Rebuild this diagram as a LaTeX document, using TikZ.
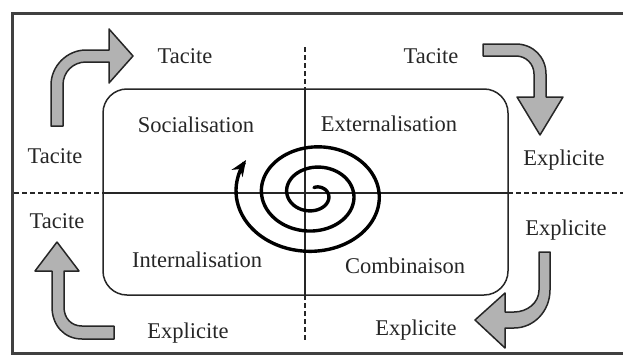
\documentclass[tikz,border=0pt]{standalone}
\usepackage{fontspec}
\setmainfont{Liberation Serif}
\usetikzlibrary{arrows.meta}

\begin{document}
\begin{tikzpicture}[
      x=1pt, y=-1pt,
      every node/.style={anchor=base, inner sep=0pt, text=black!85, font=\fontsize{22.5}{27}\selectfont},
      bigarrow/.style={draw=black!85, fill=black!30, line width=1.5pt, line join=round},
      axisline/.style={draw=black!85, line width=1.5pt},
      dashaxis/.style={axisline, dash pattern=on 5pt off 3pt},
      spiral/.style={draw=black, line width=3.4pt, line cap=round, -{Stealth[length=16pt, width=13pt]}}
    ]
    \useasboundingbox (0,0) rectangle (623,356);
    % frame, its right side is cut off
    \draw[black!75, line width=3pt] (630,13) -- (12,13) -- (12,353) -- (630,353);

    % quadrants
    \draw[axisline, rounded corners=24pt] (103,89) rectangle (508,295);
    \draw[axisline] (305,89) -- (305,295);
    \draw[axisline] (103,193) -- (508,193);
    \draw[dashaxis] (305,47) -- (305,89);
    \draw[dashaxis] (305,295) -- (305,340);
    \draw[dashaxis] (14,193) -- (103,193);
    \draw[dashaxis] (508,193) -- (623,193);

    \node (tacTL) at (185,63) {Tacite};
    \node (tacTR) at (431,63) {Tacite};
    \node (social) at (196,132) {Socialisation};
    \node (extern) at (389,131) {Externalisation};
    \node (tacL) at (55,163) {Tacite};
    \node (explR) at (564,165) {Explicite};
    \node (tacLL) at (57,228) {Tacite};
    \node (explRL) at (566,235) {Explicite};
    \node (intern) at (197,267) {Internalisation};
    \node (combi) at (405,273) {Combinaison};
    \node (explBL) at (188,338) {Explicite};
    \node (explBR) at (416,335) {Explicite};

    % big grey arrows
    \draw[bigarrow] (51,126) -- (51,85) .. controls (51,66) and (67,50) .. (86,50) -- (109,50) -- (109,29)
      -- (133,56) -- (109,83) -- (109,62) -- (86,62) .. controls (73,62) and (63,72) .. (63,85) -- (63,126) -- cycle;
    \draw[bigarrow] (483,44) -- (516,44) .. controls (533,44) and (546,57) .. (546,74) -- (546,97) -- (563,97)
      -- (540,135) -- (517,97) -- (534,97) -- (534,74) .. controls (534,64) and (526,56) .. (516,56) -- (483,56) -- cycle;
    \draw[bigarrow] (550,252) -- (550,290) .. controls (550,311) and (534,328) .. (514,328) -- (505,328) -- (505,348)
      -- (475,320) -- (505,293) -- (505,312) -- (514,312) .. controls (527,312) and (539,303) .. (539,290) -- (539,252) -- cycle;
    \draw[bigarrow] (114,326) -- (82,326) .. controls (71,326) and (64,318) .. (64,307) -- (64,271) -- (79,271)
      -- (57,242) -- (35,271) -- (52,271) -- (52,307) .. controls (52,325) and (64,339) .. (82,339) -- (114,339) -- cycle;

    % spiral
    \draw[spiral] plot[domain=270:1292, samples=260, variable=\a, smooth]
      ({314+(8+0.0706*(\a-270))*cos(\a)}, {194+0.8*(8+0.0706*(\a-270))*sin(\a)});
  \end{tikzpicture}
\end{document}
